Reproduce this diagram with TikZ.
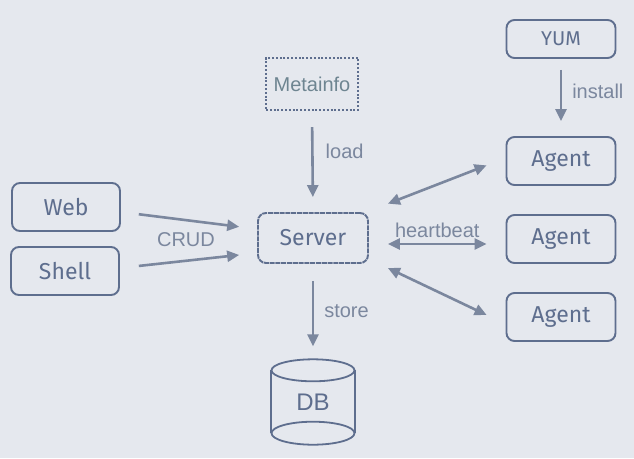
\documentclass[tikz,border=0pt]{standalone}
\usepackage{fontspec}
\setmainfont{Liberation Sans}
\newfontfamily\handfont{Fira Sans}
\usetikzlibrary{arrows.meta, positioning}
\definecolor{bgcol}{HTML}{E5E8EE}
\definecolor{boxcol}{HTML}{5E6E8E}
\definecolor{arrcol}{HTML}{7B879E}
\definecolor{metacol}{HTML}{6E8591}

\begin{document}
\begin{tikzpicture}[
    x=1pt, y=-1pt,
    box/.style={draw=boxcol, line width=1.9pt, rounded corners=8pt,
                minimum width=108pt, minimum height=48pt, text=boxcol,
                font=\handfont\fontsize{23}{26}\selectfont},
    sketchbox/.style={box, dash pattern=on 5pt off 0.8pt, minimum width=110pt,
                      minimum height=50pt},
    dotbox/.style={draw=boxcol, line width=2.2pt, dash pattern=on 2pt off 1.8pt,
                   minimum width=92pt, minimum height=52pt, text=metacol,
                   font=\fontsize{20}{22}\selectfont},
    lbl/.style={text=arrcol, font=\fontsize{20}{22}\selectfont, inner sep=2pt},
    msj/.style={draw=arrcol, line width=2.6pt, -{Triangle[length=12pt, width=11pt]}},
    bimsj/.style={msj, {Triangle[length=12pt, width=11pt]}-{Triangle[length=12pt, width=11pt]}},
    dbline/.style={draw=boxcol, line width=1.8pt}
  ]

  \useasboundingbox[fill=bgcol] (0,0) rectangle (634,458);

  % --- Nodos ---
  \node[box] (web) at (66,207) {Web};
  \node[box] (shell) at (65,271) {Shell};
  \node[sketchbox] (server) at (313,238) {Server};
  \node[dotbox] (meta) at (312,84) {Metainfo};
  \node[box, minimum height=38pt, minimum width=109pt,
        font=\handfont\fontsize{20}{24}\selectfont] (yum) at (561,39) {YUM};
  \node[box, minimum width=109pt] (ag1) at (561,161) {Agent};
  \node[box, minimum width=109pt] (ag2) at (561,239) {Agent};
  \node[box, minimum width=109pt] (ag3) at (561,317) {Agent};
  \node[minimum width=83pt, minimum height=85pt, text=boxcol,
        font=\fontsize{24}{28}\selectfont] (db) at (313,402) {DB};

  % --- Base de datos ---
  \draw[dbline] ([yshift=-11pt]db.north west) -- ([yshift=11.5pt]db.south west);
  \draw[dbline] ([yshift=-11pt]db.north east) -- ([yshift=11.5pt]db.south east);
  \draw[dbline] ([yshift=-11pt]db.north) ellipse [x radius=41.5pt, y radius=11pt];
  \draw[dbline] ([yshift=11.5pt]db.south) ellipse [x radius=41.5pt, y radius=11.5pt];

  % --- Flechas ---
  \draw[msj, shorten <=16pt, shorten >=15pt] (meta.south) --
        node[lbl, right=10pt, pos=0.4]{load} (server.north);
  \draw[msj, shorten <=11pt, shorten >=15pt] (yum.south) --
        node[lbl, right=8pt, pos=0.42]{install} (ag1.north);
  \draw[msj, shorten <=17pt, shorten >=13pt] (server.south) --
        node[lbl, right=8pt]{store} (db.north);
  \draw[msj, shorten <=18pt, shorten >=18pt] ([yshift=-5pt]web.east) --
        ([yshift=9pt]server.west);
  \draw[msj, shorten <=19pt, shorten >=18pt] ([yshift=3pt]shell.east) --
        ([yshift=-15pt]server.west);
  \node[lbl] (crud) at (186,240) {CRUD};
  \draw[bimsj, shorten <=19pt, shorten >=19pt] ([yshift=-6pt]server.east) --
        node[lbl, above=3pt]{heartbeat} ([yshift=-5pt]ag2.west);
  \draw[bimsj, shorten <=20.4pt, shorten >=20.4pt] ([yshift=27pt]server.east) --
        ([yshift=3pt]ag1.west);
  \draw[bimsj, shorten <=21pt, shorten >=21pt] ([yshift=-21pt]server.east) --
        ([yshift=-7pt]ag3.west);

\end{tikzpicture}
\end{document}
